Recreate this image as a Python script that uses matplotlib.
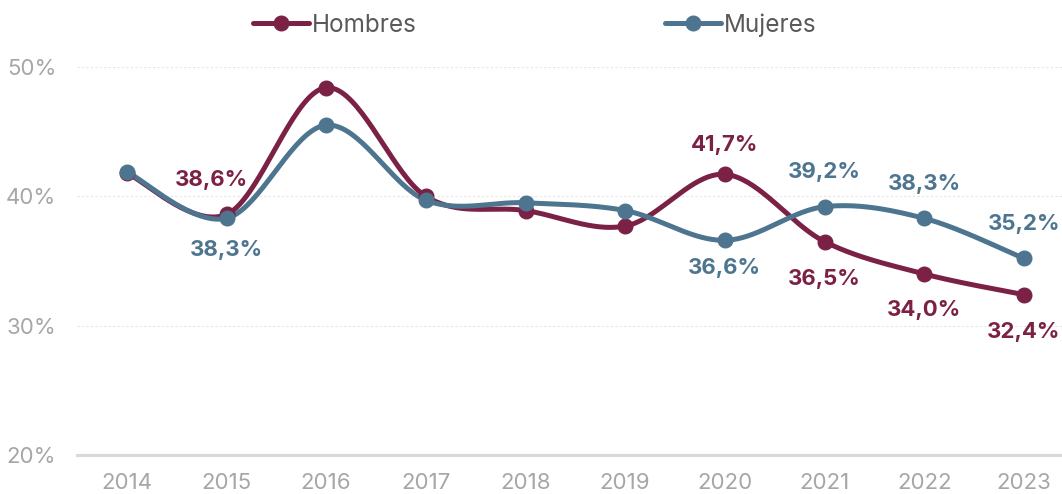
import numpy as np
import matplotlib
matplotlib.use("Agg")
import matplotlib.pyplot as plt
from matplotlib.lines import Line2D

years = ["2014", "2015", "2016", "2017", "2018", "2019", "2020", "2021", "2022", "2023"]
hombres = [41.8, 38.6, 48.4, 40.0, 38.9, 37.7, 41.7, 36.5, 34.0, 32.4]
mujeres = [41.9, 38.3, 45.5, 39.7, 39.5, 38.9, 36.6, 39.2, 38.3, 35.2]
y_ticks = [20, 30, 40, 50]
y_tick_labels = ["20%", "30%", "40%", "50%"]

# labelled points: index, vertical offset (points), horizontal offset (points)
hombres_labels = [(1, 25, -11), (6, 21, 0), (7, -27, 0), (8, -26, 0), (9, -27, 0)]
mujeres_labels = [(1, -23, 0), (6, -20, 0), (7, 25, 0), (8, 25, 0), (9, 25, 0)]

C_H = "#7B2146"
C_M = "#4E758F"

plt.rcParams['font.family'] = ['Inter', 'DejaVu Sans']


def smooth(x, y, n=40, t=1/6):
    x = np.asarray(x, float); y = np.asarray(y, float)
    xs, ys = [], []
    N = len(x)
    for i in range(N - 1):
        p0 = np.array([x[max(i - 1, 0)], y[max(i - 1, 0)]])
        p1 = np.array([x[i], y[i]])
        p2 = np.array([x[i + 1], y[i + 1]])
        p3 = np.array([x[min(i + 2, N - 1)], y[min(i + 2, N - 1)]])
        c1 = p1 + (p2 - p0) * t
        c2 = p2 - (p3 - p1) * t
        s = np.linspace(0, 1, n)[:, None]
        pts = ((1 - s) ** 3) * p1 + 3 * ((1 - s) ** 2) * s * c1 + 3 * (1 - s) * s ** 2 * c2 + s ** 3 * p2
        if i > 0:
            pts = pts[1:]
        xs.append(pts[:, 0]); ys.append(pts[:, 1])
    return np.concatenate(xs), np.concatenate(ys)


fig = plt.figure(figsize=(10.62, 4.94), dpi=100)
ax = fig.add_axes([77 / 1062, 1 - 455 / 494, (1062 - 77) / 1062, (455 - 67) / 494 * 1.0])
ax.set_ylim(20, 50)
ax.set_xlim(-0.5, -0.5 + (1062 - 77) / 99.67)

x = np.arange(len(years))
LW = 3.6
for vals, col in [(hombres, C_H), (mujeres, C_M)]:
    sx, sy = smooth(x, vals)
    ax.plot(sx, sy, color=col, lw=LW, solid_capstyle='round', zorder=3, clip_on=False)
    ax.plot(x, vals, 'o', color=col, ms=10.5, zorder=4, clip_on=False)

for vals, labs, col in [(hombres, hombres_labels, C_H), (mujeres, mujeres_labels, C_M)]:
    for i, off, dx in labs:
        ax.annotate(f"{vals[i]:.1f}%".replace(".", ","), (x[i], vals[i]),
                    xytext=(dx, off), textcoords="offset points",
                    ha="center", va="center", fontsize=16, fontweight="bold",
                    color=col, zorder=5)

for v in [30, 40, 50]:
    ax.axhline(v, color="#E6E6E6", lw=0.8, ls=(0, (2, 2)), zorder=1)
ax.axhline(20, color="#D9D9D9", lw=2.2, zorder=1, clip_on=False)

ax.set_yticks(y_ticks)
ax.set_yticklabels(y_tick_labels)
ax.set_xticks(x)
ax.set_xticklabels(years)
ax.tick_params(axis='both', length=0, labelsize=16, colors="#A6A6A6")
ax.tick_params(axis='y', pad=15)
ax.tick_params(axis='x', pad=13)
for s in ax.spines.values():
    s.set_visible(False)

handles = [Line2D([], [], color=C_H, lw=LW, marker='o', ms=10.5, solid_capstyle='round'),
           Line2D([], [], color=C_M, lw=LW, marker='o', ms=10.5, solid_capstyle='round')]
fig.legend(handles, ["Hombres", "Mujeres"], loc="center", bbox_to_anchor=(535 / 1062, 1 - 25 / 494),
           ncol=2, frameon=False, fontsize=17.5, handlelength=2.3, handletextpad=0.12,
           columnspacing=10.2, labelcolor="#595959")

fig.savefig("out.png", dpi=100, facecolor="white")
